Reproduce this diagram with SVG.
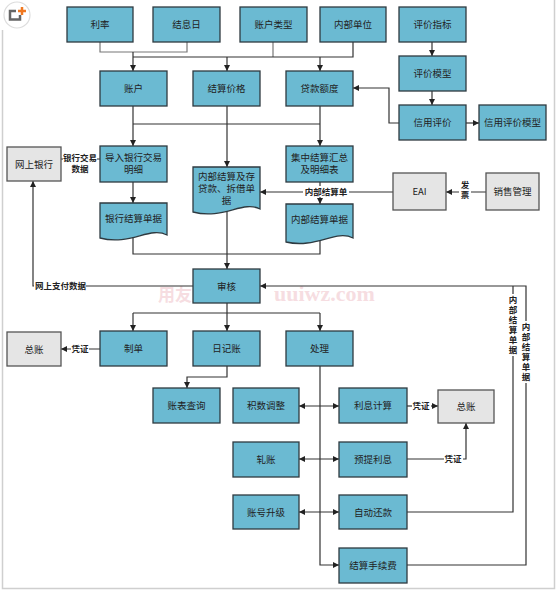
<svg xmlns="http://www.w3.org/2000/svg" width="557" height="591" viewBox="0 0 557 591">
<defs>
<marker id="ah" markerWidth="6" markerHeight="6" refX="6" refY="3" orient="auto-start-reverse" markerUnits="userSpaceOnUse">
<path d="M0,0 L6,3 L0,6 z" fill="#222"/>
</marker>
<style>
.t{fill:#6bbad2;stroke:#2e3a40;stroke-width:1.3}
.g{fill:#e5e5e5;stroke:#555;stroke-width:1.3}
.tx{font-family:"Noto Sans CJK SC","Liberation Sans",sans-serif;font-size:9.5px;fill:#222;text-anchor:middle}
.lb{font-family:"Noto Sans CJK SC","Liberation Sans",sans-serif;font-size:8.5px;font-weight:bold;fill:#222;text-anchor:middle}
.v{writing-mode:vertical-rl;text-anchor:start;letter-spacing:1.5px}
.c{fill:none;stroke:#333;stroke-width:1.2}
.cg{fill:none;stroke:#777;stroke-width:1.2}
.a{marker-end:url(#ah)}
.aa{marker-start:url(#ah);marker-end:url(#ah)}
</style>
</defs>
<rect x="0" y="0" width="557" height="591" fill="#fff"/>
<path d="M2.5,30 V588.5 H554.5 V0" fill="none" stroke="#cfcfcf" stroke-width="1.5"/>
<g id="icon">
<circle cx="17" cy="15" r="13" fill="#fff" stroke="#ddd" stroke-width="1.2"/>
<path d="M16,11 H10 V19.5 H20 V15" fill="none" stroke="#666" stroke-width="2.5"/>
<path d="M22,7 V15 M18,11 H26" stroke="#f07820" stroke-width="2.5"/>
</g>
<g id="watermark" opacity="0.35">
<text x="158" y="301" font-family="Noto Sans CJK SC, sans-serif" font-size="17" font-weight="bold" fill="#e8a0aa">用友服务站</text>
<text x="274" y="301" font-family="Liberation Serif, serif" font-size="22" font-weight="bold" fill="#e8a0aa">uuiwz.com</text>
</g>
<g id="connectors">
<path class="cg" d="M100,42 V52 H187 V42"/>
<path class="c a" d="M133,52 V71"/>
<path class="cg" d="M273,42 V57"/>
<path class="c" d="M133,57 H353 V42"/>
<path class="c a" d="M227,57 V71"/>
<path class="c a" d="M320,57 V71"/>
<path class="c a" d="M432,42 V56"/>
<path class="c a" d="M432,91 V105"/>
<path class="c a" d="M399,123 H389 V88 H353"/>
<path class="c a" d="M466,123 H479"/>
<path class="c a" d="M133,106 V146"/>
<path class="c a" d="M227,106 V167"/>
<path class="c a" d="M320,106 V146"/>
<path class="c" d="M133,124 H320"/>
<path class="c" d="M100,159 H61"/>
<path class="c a" d="M133,182 V203"/>
<path class="c a" d="M320,182 V204"/>
<path class="c a" d="M486,192 H446"/>
<path class="c a" d="M393,192 H260"/>
<path class="c" d="M133,237 V254 H320 V240"/>
<path class="c a" d="M227,212 V269"/>
<path class="c a" d="M407,565 H526 V286 H260"/>
<path class="c" d="M407,512 H513 V286"/>
<path class="c a" d="M193,286 H33 V181"/>
<path class="c a" d="M227,303 V331"/>
<path class="c" d="M133,313 H320"/>
<path class="c a" d="M133,313 V331"/>
<path class="c a" d="M320,313 V331"/>
<path class="c a" d="M100,349 H61"/>
<path class="c a" d="M227,366 V377 H187 V388"/>
<path class="c a" d="M320,366 V565 H339"/>
<path class="c aa" d="M299,406 H339"/>
<path class="c aa" d="M299,459 H339"/>
<path class="c aa" d="M299,512 H339"/>
<path class="c a" d="M407,406 H438"/>
<path class="c a" d="M407,459 H466 V423"/>
<g id="labels">
<rect x="63" y="150" width="34" height="22" fill="#fff"/>
<text class="lb" x="80" y="161">银行交易<tspan x="80" y="172">数据</tspan></text>
<rect x="459" y="180" width="12" height="24" fill="#fff"/>
<text class="lb v" x="465" y="181">发票</text>
<rect x="303" y="186" width="46" height="11" fill="#fff"/>
<text class="lb" x="326" y="195">内部结算单</text>
<rect x="34" y="280" width="52" height="11" fill="#fff"/>
<text class="lb" x="35" y="289" style="text-anchor:start">网上支付数据</text>
<rect x="71" y="343" width="18" height="11" fill="#fff"/>
<text class="lb" x="80" y="352">凭证</text>
<rect x="412" y="400" width="19" height="11" fill="#fff"/>
<text class="lb" x="421" y="409">凭证</text>
<rect x="444" y="453" width="19" height="11" fill="#fff"/>
<text class="lb" x="453" y="462">凭证</text>
<rect x="507" y="294" width="12" height="62" fill="#fff"/>
<text class="lb v" x="513" y="296">内部结算单据</text>
<rect x="520" y="321" width="12" height="62" fill="#fff"/>
<text class="lb v" x="526" y="323">内部结算单据</text>
</g>
</g>
<g id="lilv"><rect class="t" x="67" y="7" width="66" height="35"/><text class="tx" x="100" y="28">利率</text></g>
<g id="jiexiri"><rect class="t" x="153" y="7" width="67" height="35"/><text class="tx" x="186.5" y="28">结息日</text></g>
<g id="zhlx"><rect class="t" x="240" y="7" width="67" height="35"/><text class="tx" x="273.5" y="28">账户类型</text></g>
<g id="nbdw"><rect class="t" x="320" y="7" width="66" height="35"/><text class="tx" x="353" y="28">内部单位</text></g>
<g id="pjzb"><rect class="t" x="399" y="7" width="67" height="35"/><text class="tx" x="432.5" y="28">评价指标</text></g>
<g id="pjmx"><rect class="t" x="399" y="56" width="67" height="35"/><text class="tx" x="432.5" y="77">评价模型</text></g>
<g id="xypj"><rect class="t" x="399" y="105" width="67" height="35"/><text class="tx" x="432.5" y="126">信用评价</text></g>
<g id="xypjmx"><rect class="t" x="479" y="105" width="67" height="35"/><text class="tx" x="512.5" y="126">信用评价模型</text></g>
<g id="zhanghu"><rect class="t" x="100" y="71" width="67" height="35"/><text class="tx" x="133.5" y="92">账户</text></g>
<g id="jsjg"><rect class="t" x="193" y="71" width="67" height="35"/><text class="tx" x="226.5" y="92">结算价格</text></g>
<g id="dked"><rect class="t" x="286" y="71" width="67" height="35"/><text class="tx" x="319.5" y="92">贷款额度</text></g>
<g id="wsyh"><rect class="g" x="7" y="147" width="54" height="34"/><text class="tx" x="34" y="167.5">网上银行</text></g>
<g id="drmx"><rect class="t" x="100" y="146" width="67" height="36"/><text class="tx" x="133.5" y="161">导入银行交易<tspan x="133.5" y="173">明细</tspan></text></g>
<g id="yhjsdj"><path class="t" d="M100,203 H167 V235 C150,226 130,246 100,238 Z"/><text class="tx" x="133.5" y="222">银行结算单据</text></g>
<g id="nbjsdj1"><path class="t" d="M193,167 H260 V209 C243,200 223,220 193,212 Z"/><text class="tx" x="226.5" y="180">内部结算及存<tspan x="226.5" y="192">贷款、拆借单</tspan><tspan x="226.5" y="204">据</tspan></text></g>
<g id="jzhz"><rect class="t" x="286" y="146" width="67" height="36"/><text class="tx" x="319.5" y="161">集中结算汇总<tspan x="319.5" y="173">及明细表</tspan></text></g>
<g id="nbjsdj2"><path class="t" d="M286,204 H353 V238 C336,229 316,249 286,242 Z"/><text class="tx" x="319.5" y="223">内部结算单据</text></g>
<g id="eai"><rect class="g" x="393" y="173" width="53" height="37"/><text class="tx" x="419.5" y="195">EAI</text></g>
<g id="xsgl"><rect class="g" x="486" y="173" width="53" height="37"/><text class="tx" x="512.5" y="195">销售管理</text></g>
<g id="shenhe"><rect class="t" x="193" y="269" width="67" height="34"/><text class="tx" x="226.5" y="289.5">审核</text></g>
<g id="zongzhang1"><rect class="g" x="7" y="332" width="54" height="34"/><text class="tx" x="34" y="352.5">总账</text></g>
<g id="zhidan"><rect class="t" x="100" y="331" width="67" height="35"/><text class="tx" x="133.5" y="352">制单</text></g>
<g id="rjz"><rect class="t" x="193" y="331" width="67" height="35"/><text class="tx" x="226.5" y="352">日记账</text></g>
<g id="chuli"><rect class="t" x="286" y="331" width="67" height="35"/><text class="tx" x="319.5" y="352">处理</text></g>
<g id="zbcx"><rect class="t" x="153" y="388" width="67" height="35"/><text class="tx" x="186.5" y="409">账表查询</text></g>
<g id="jstz"><rect class="t" x="233" y="388" width="66" height="35"/><text class="tx" x="266" y="409">积数调整</text></g>
<g id="zhazhang"><rect class="t" x="233" y="442" width="66" height="35"/><text class="tx" x="266" y="463">轧账</text></g>
<g id="zhsj"><rect class="t" x="233" y="495" width="66" height="34"/><text class="tx" x="266" y="515.5">账号升级</text></g>
<g id="lxjs"><rect class="t" x="339" y="388" width="68" height="35"/><text class="tx" x="373" y="409">利息计算</text></g>
<g id="ytlx"><rect class="t" x="339" y="442" width="68" height="35"/><text class="tx" x="373" y="463">预提利息</text></g>
<g id="zdhk"><rect class="t" x="339" y="495" width="68" height="34"/><text class="tx" x="373" y="515.5">自动还款</text></g>
<g id="jssxf"><rect class="t" x="339" y="548" width="68" height="35"/><text class="tx" x="373" y="569">结算手续费</text></g>
<g id="zongzhang2"><rect class="g" x="438" y="390" width="56" height="33"/><text class="tx" x="466" y="410">总账</text></g>
</svg>
